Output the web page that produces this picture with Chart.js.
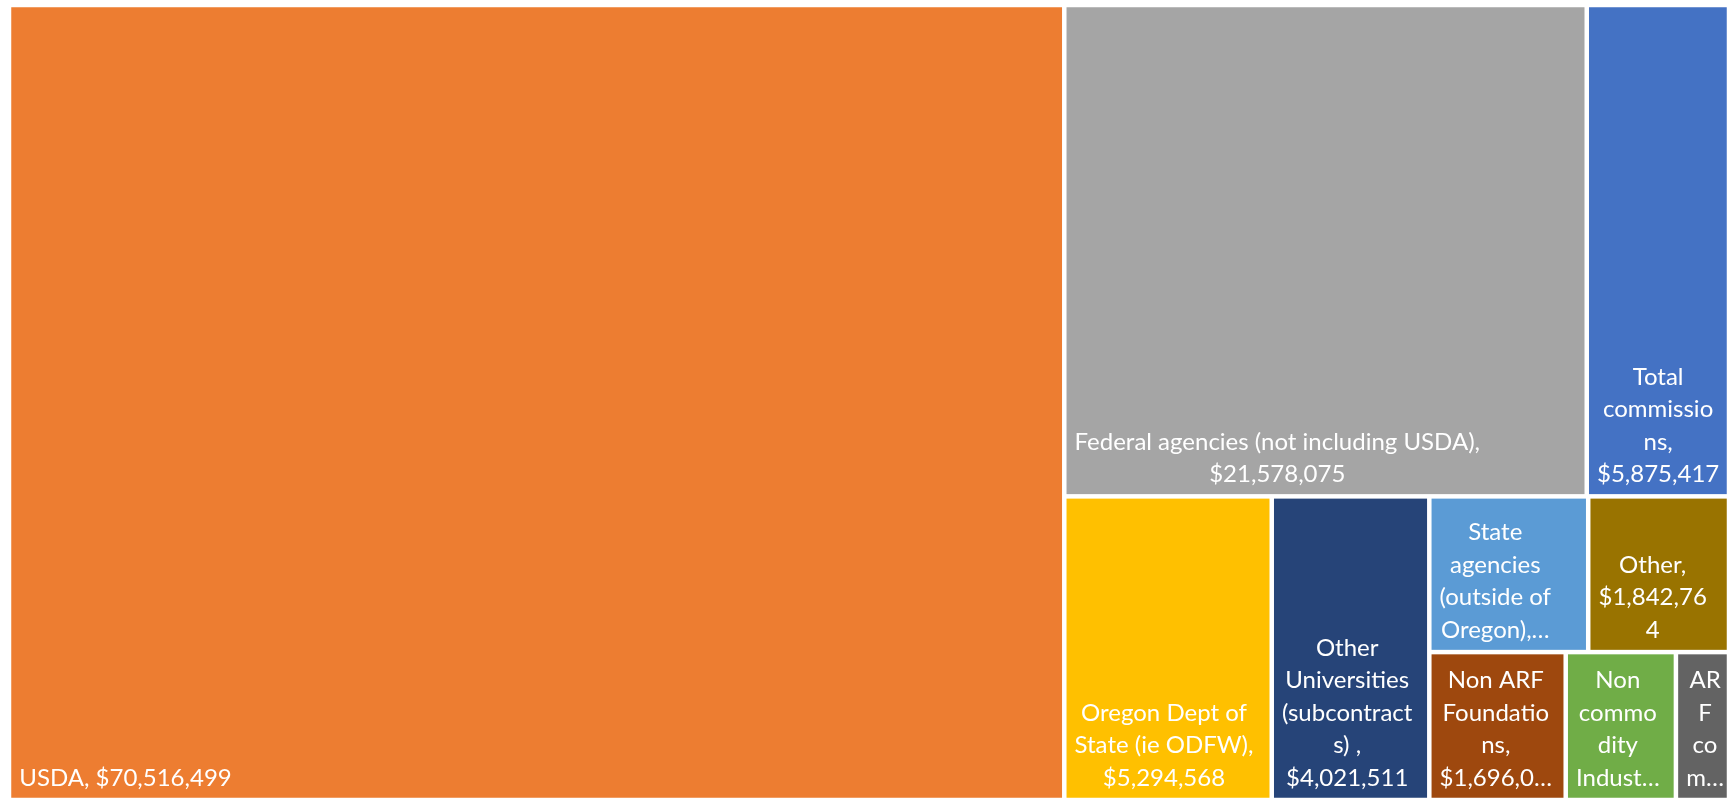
<!DOCTYPE html>
<html>
<head>
<meta charset="utf-8">
<script src="https://cdn.jsdelivr.net/npm/chart.js@4"></script>
<style>
  html, body { margin: 0; padding: 0; background: #fff; }
</style>
</head>
<body>
<canvas id="treeChart" width="1729" height="800"></canvas>
<script>
const categories = [
  'USDA',
  'Federal agencies (not including USDA)',
  'Total commissions',
  'Oregon Dept of State (ie ODFW)',
  'Other Universities (subcontracts) ',
  'State agencies (outside of Oregon)',
  'Other',
  'Non ARF Foundations',
  'Non commodity Industry',
  'ARF commissions'
];
const values = [70516499, 21578075, 5875417, 5294568, 4021511, 2080000, 1842764, 1696000, 1370000, 660000];

// nesting of the cells: 'h' = side by side, 'v' = stacked; numbers are category indexes
const cellGroups = ['h', 0, ['v', ['h', 1, 2], ['h', 3, 4, ['v', ['h', 5, 6], ['h', 7, 8, 9]]]]];

const colors = ['#ED7D31', '#A5A5A5', '#4472C4', '#FFC000', '#264478', '#5B9BD5', '#997300', '#9E480E', '#70AD47', '#636363'];

const nodeSum = (n) => typeof n === 'number' ? values[n] : n.slice(1).reduce((s, c) => s + nodeSum(c), 0);

const placeNode = (n, x0, y0, x1, y1, out) => {
  if (typeof n === 'number') {
    out[n] = { x0, y0, x1, y1 };
    return;
  }
  const total = nodeSum(n);
  let pos = n[0] === 'h' ? x0 : y0;
  n.slice(1).forEach((kid) => {
    const f = nodeSum(kid) / total;
    if (n[0] === 'h') {
      const next = pos + f * (x1 - x0);
      placeNode(kid, pos, y0, next, y1, out);
      pos = next;
    } else {
      const next = pos + f * (y1 - y0);
      placeNode(kid, x0, pos, x1, next, out);
      pos = next;
    }
  });
};

// greedy wrap, breaking inside a word when it is wider than the cell
const wrapText = (ctx, text, maxW) => {
  const lines = [];
  let cur = '';
  text.split(' ').forEach((word) => {
    const test = cur === '' ? word : cur + ' ' + word;
    if (ctx.measureText(test).width <= maxW) { cur = test; return; }
    if (cur !== '') { lines.push(cur); cur = ''; }
    for (const ch of word) {
      if (cur !== '' && ctx.measureText(cur + ch).width > maxW) { lines.push(cur); cur = ch; }
      else cur += ch;
    }
  });
  if (cur !== '') lines.push(cur);
  return lines;
};

const drawLabel = (ctx, text, left, top, right, bottom) => {
  const lineH = 32.5;
  const maxW = right - left - 15;
  let lines = wrapText(ctx, text, maxW);
  const maxLines = Math.floor((bottom - top - 8) / lineH);
  if (maxLines < 1) return;
  if (lines.length > maxLines) {
    lines = lines.slice(0, maxLines);
    let last = lines[maxLines - 1];
    while (last.length > 1 && ctx.measureText(last + '…').width > maxW) last = last.slice(0, -1);
    lines[maxLines - 1] = last + '…';
  }
  const firstBase = bottom - 12 - (lines.length - 1) * lineH;
  const blockW = Math.max(...lines.map((l) => ctx.measureText(l).width));
  const cx = left + 8 + blockW / 2;
  lines.forEach((l, i) => ctx.fillText(l, cx, firstBase + i * lineH));
};

const treemapCells = {
  id: 'treemapCells',
  afterDatasetsDraw(chart) {
    const { ctx } = chart;
    const xs = chart.scales.x, ys = chart.scales.y;
    const rects = [];
    placeNode(cellGroups, 0, 0, 1, 1, rects);
    const inset = 2.25;
    ctx.save();
    ctx.font = '24px Lato';
    ctx.textAlign = 'center';
    ctx.textBaseline = 'alphabetic';
    rects.forEach((r, i) => {
      const left = xs.getPixelForValue(r.x0) + inset;
      const right = xs.getPixelForValue(r.x1) - inset;
      const top = ys.getPixelForValue(r.y0) + inset;
      const bottom = ys.getPixelForValue(r.y1) - inset;
      ctx.fillStyle = colors[i];
      ctx.fillRect(left, top, right - left, bottom - top);
      ctx.fillStyle = '#FFFFFF';
      const label = categories[i] + ', $' + values[i].toLocaleString('en-US');
      drawLabel(ctx, label, left, top, right, bottom);
    });
    ctx.restore();
  }
};

new Chart(document.getElementById('treeChart').getContext('2d'), {
  type: 'scatter',
  data: { datasets: [{ data: [] }] },
  options: {
    responsive: false,
    animation: false,
    layout: { padding: { left: 9, top: 5, right: 0, bottom: 0 } },
    plugins: { legend: { display: false }, tooltip: { enabled: false } },
    scales: {
      x: { type: 'linear', min: 0, max: 1, display: false },
      y: { type: 'linear', min: 0, max: 1, reverse: true, display: false }
    }
  },
  plugins: [treemapCells]
});
</script>
</body>
</html>
